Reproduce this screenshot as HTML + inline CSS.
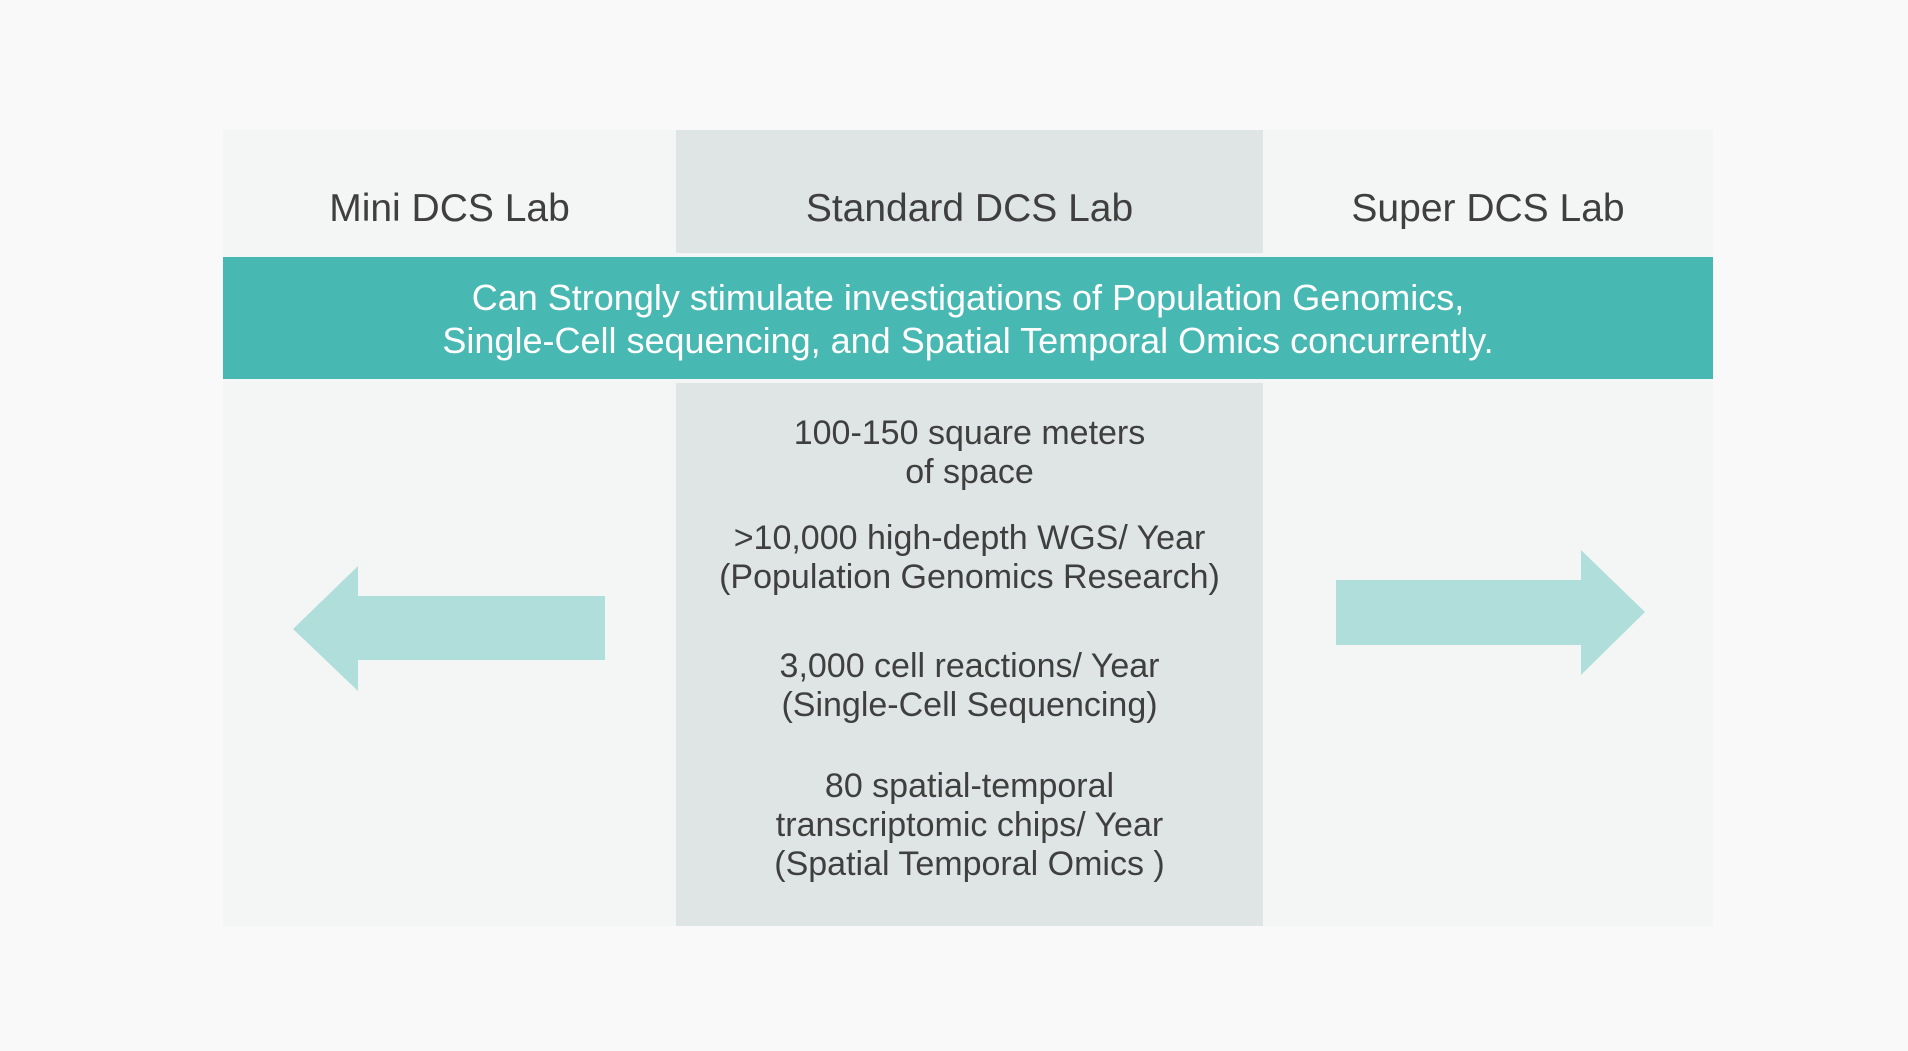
<!DOCTYPE html>
<html><head><meta charset="utf-8"><style>
html,body{margin:0;padding:0;width:1908px;height:1051px;background:#f9f9f9;overflow:hidden;font-family:"Liberation Sans",sans-serif;}
.a{position:absolute}
.t{position:absolute;text-align:center;color:#3f3f3f;white-space:nowrap}
</style></head><body>
<div class="a" style="left:223px;top:130px;width:1490px;height:796px;background:#f4f6f5"></div>
<div class="a" style="left:676px;top:130px;width:587px;height:123px;background:#dfe5e4"></div>
<div class="a" style="left:676px;top:383px;width:587px;height:543px;background:#dfe5e4"></div>
<div class="a" style="left:223px;top:257px;width:1490px;height:122px;background:#48b8b2"></div>
<div class="t" style="left:223px;width:453px;top:187px;font-size:39px">Mini DCS Lab</div>
<div class="t" style="left:676px;width:587px;top:187px;font-size:39px">Standard DCS Lab</div>
<div class="t" style="left:1263px;width:450px;top:187px;font-size:39px">Super DCS Lab</div>
<div class="t" style="left:223px;width:1490px;top:276px;font-size:36px;line-height:43px;color:#fff;font-family:'Liberation Sans Narrow','Liberation Sans',sans-serif">Can Strongly stimulate investigations of Population Genomics,<br>Single-Cell sequencing, and Spatial Temporal Omics concurrently.</div>
<div class="t" style="left:676px;width:587px;top:414px;font-size:34px;line-height:39px">100-150 square meters<br>of space</div>
<div class="t" style="left:676px;width:587px;top:519px;font-size:34px;line-height:39px">&gt;10,000 high-depth WGS/ Year<br>(Population Genomics Research)</div>
<div class="t" style="left:676px;width:587px;top:647px;font-size:34px;line-height:39px">3,000 cell reactions/ Year<br>(Single-Cell Sequencing)</div>
<div class="t" style="left:676px;width:587px;top:767px;font-size:34px;line-height:39px">80 spatial-temporal<br>transcriptomic chips/ Year<br>(Spatial Temporal Omics )</div>
<svg class="a" style="left:0;top:0" width="1908" height="1051">
<polygon fill="#b0dfdb" points="293,629 358,566 358,596 605,596 605,660 358,660 358,691"/>
<polygon fill="#b0dfdb" points="1336,580 1581,580 1581,550 1645,612 1581,675 1581,645 1336,645"/>
</svg>
</body></html>
